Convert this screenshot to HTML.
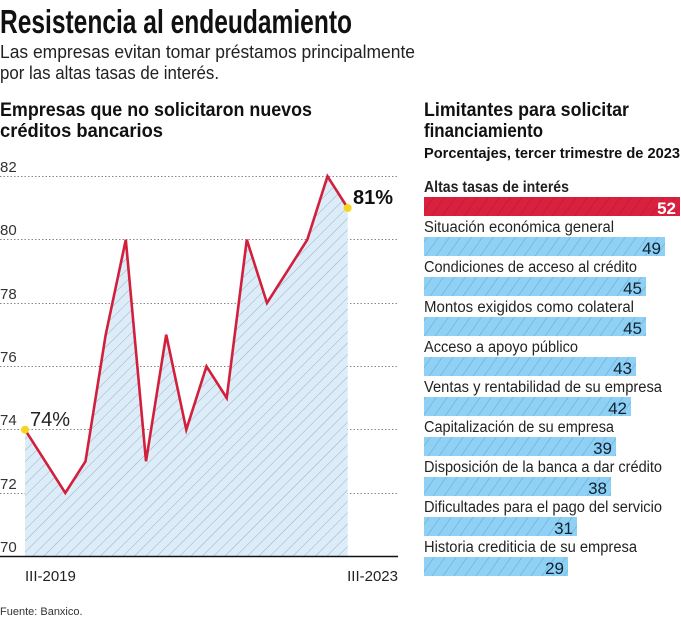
<!DOCTYPE html>
<html><head><meta charset="utf-8"><style>html,body{margin:0;padding:0;background:#fff}svg{display:block}</style></head>
<body>
<svg width="681" height="620" xmlns="http://www.w3.org/2000/svg" font-family="Liberation Sans, sans-serif">
<defs>
<pattern id="h" width="8" height="8" patternUnits="userSpaceOnUse" patternTransform="rotate(45)">
<rect width="8" height="8" fill="#dcedf9"/><line x1="0" y1="0" x2="0" y2="8" stroke="#9fb0bd" stroke-width="1"/></pattern>
<pattern id="b" width="9" height="9" patternUnits="userSpaceOnUse" patternTransform="rotate(35)">
<rect width="9" height="9" fill="#8fd1f5"/><line x1="0" y1="0" x2="0" y2="9" stroke="#5fa6cf" stroke-width="1"/></pattern>
<pattern id="r" width="9" height="9" patternUnits="userSpaceOnUse" patternTransform="rotate(35)">
<rect width="9" height="9" fill="#d9213f"/><line x1="0" y1="0" x2="0" y2="9" stroke="#b01830" stroke-width="1"/></pattern>
</defs>
<text x="0" y="33" font-size="33" font-weight="bold" textLength="352" lengthAdjust="spacingAndGlyphs" fill="#111">Resistencia al endeudamiento</text>
<text x="0" y="58" font-size="18" textLength="415" lengthAdjust="spacingAndGlyphs" fill="#222">Las empresas evitan tomar préstamos principalmente</text>
<text x="0" y="79" font-size="18" textLength="219" lengthAdjust="spacingAndGlyphs" fill="#222">por las altas tasas de interés.</text>
<text x="0" y="116" font-size="19" font-weight="bold" textLength="312" lengthAdjust="spacingAndGlyphs" fill="#111">Empresas que no solicitaron nuevos</text>
<text x="0" y="137" font-size="19" font-weight="bold" textLength="163" lengthAdjust="spacingAndGlyphs" fill="#111">créditos bancarios</text>
<text x="424" y="116" font-size="19" font-weight="bold" textLength="205" lengthAdjust="spacingAndGlyphs" fill="#111">Limitantes para solicitar</text>
<text x="424" y="137" font-size="19" font-weight="bold" textLength="119" lengthAdjust="spacingAndGlyphs" fill="#111">financiamiento</text>
<text x="424" y="158" font-size="14.5" font-weight="bold" textLength="256" lengthAdjust="spacingAndGlyphs" fill="#111">Porcentajes, tercer trimestre de 2023</text>
<g stroke="#888" stroke-width="1" stroke-dasharray="1.5,2">
<line x1="0" y1="176.5" x2="398" y2="176.5"/><line x1="0" y1="239.5" x2="398" y2="239.5"/><line x1="0" y1="303.5" x2="398" y2="303.5"/><line x1="0" y1="366.5" x2="398" y2="366.5"/><line x1="0" y1="429.5" x2="398" y2="429.5"/><line x1="0" y1="493.5" x2="398" y2="493.5"/>
</g>
<g font-size="15" fill="#333">
<text x="0" y="172">82</text><text x="0" y="235">80</text><text x="0" y="299">78</text><text x="0" y="362">76</text><text x="0" y="425">74</text><text x="0" y="489">72</text><text x="0" y="552">70</text>
</g>
<polygon fill="url(#h)" points="25,556 25,429.7 45.2,461.3 65.3,493 85.5,461.3 105.7,334.7 125.8,239.7 146,461.3 166.2,334.7 186.3,429.7 206.5,366.3 226.7,398 246.8,239.7 267,303 287.2,271.3 307.3,239.7 327.5,176.3 347.7,208 347.7,556"/>
<polyline fill="none" stroke="#d21f3c" stroke-width="2.6" stroke-linejoin="miter" points="25,429.7 45.2,461.3 65.3,493 85.5,461.3 105.7,334.7 125.8,239.7 146,461.3 166.2,334.7 186.3,429.7 206.5,366.3 226.7,398 246.8,239.7 267,303 287.2,271.3 307.3,239.7 327.5,176.3 347.7,208"/>
<line x1="0" y1="556.5" x2="398" y2="556.5" stroke="#111" stroke-width="1.5"/>
<circle cx="25" cy="429.7" r="4" fill="#f7d51c"/><circle cx="347.7" cy="208" r="4" fill="#f7d51c"/>
<text x="30" y="426" font-size="20" fill="#222">74%</text>
<text x="353" y="204" font-size="20" font-weight="bold" fill="#111">81%</text>
<text x="25" y="581" font-size="15" fill="#222">III-2019</text>
<text x="398" y="581" font-size="15" fill="#222" text-anchor="end">III-2023</text>
<g font-size="15.5" fill="#222">
<text x="424" y="192" font-weight="bold" textLength="145" lengthAdjust="spacingAndGlyphs">Altas tasas de interés</text>
<rect x="424" y="197" width="256" height="19" fill="url(#r)"/><text x="676" y="214" text-anchor="end" font-weight="bold" fill="#fff" font-size="17">52</text>
<text x="424" y="232" textLength="190" lengthAdjust="spacingAndGlyphs">Situación económica general</text>
<rect x="424" y="237" width="241" height="19" fill="url(#b)"/><text x="661" y="254" text-anchor="end" font-size="17" fill="#123">49</text>
<text x="424" y="272" textLength="213" lengthAdjust="spacingAndGlyphs">Condiciones de acceso al crédito</text>
<rect x="424" y="277" width="222" height="19" fill="url(#b)"/><text x="642" y="294" text-anchor="end" font-size="17" fill="#123">45</text>
<text x="424" y="312" textLength="210" lengthAdjust="spacingAndGlyphs">Montos exigidos como colateral</text>
<rect x="424" y="317" width="222" height="19" fill="url(#b)"/><text x="642" y="334" text-anchor="end" font-size="17" fill="#123">45</text>
<text x="424" y="352" textLength="154" lengthAdjust="spacingAndGlyphs">Acceso a apoyo público</text>
<rect x="424" y="357" width="212" height="19" fill="url(#b)"/><text x="632" y="374" text-anchor="end" font-size="17" fill="#123">43</text>
<text x="424" y="392" textLength="238" lengthAdjust="spacingAndGlyphs">Ventas y rentabilidad de su empresa</text>
<rect x="424" y="397" width="207" height="19" fill="url(#b)"/><text x="627" y="414" text-anchor="end" font-size="17" fill="#123">42</text>
<text x="424" y="432" textLength="190" lengthAdjust="spacingAndGlyphs">Capitalización de su empresa</text>
<rect x="424" y="437" width="192" height="19" fill="url(#b)"/><text x="612" y="454" text-anchor="end" font-size="17" fill="#123">39</text>
<text x="424" y="472" textLength="238" lengthAdjust="spacingAndGlyphs">Disposición de la banca a dar crédito</text>
<rect x="424" y="477" width="187" height="19" fill="url(#b)"/><text x="607" y="494" text-anchor="end" font-size="17" fill="#123">38</text>
<text x="424" y="512" textLength="238" lengthAdjust="spacingAndGlyphs">Dificultades para el pago del servicio</text>
<rect x="424" y="517" width="153" height="19" fill="url(#b)"/><text x="573" y="534" text-anchor="end" font-size="17" fill="#123">31</text>
<text x="424" y="552" textLength="213" lengthAdjust="spacingAndGlyphs">Historia crediticia de su empresa</text>
<rect x="424" y="557" width="144" height="19" fill="url(#b)"/><text x="564" y="574" text-anchor="end" font-size="17" fill="#123">29</text>
</g>
<text x="0" y="615" font-size="11" fill="#333">Fuente: Banxico.</text>
</svg>
</body></html>
